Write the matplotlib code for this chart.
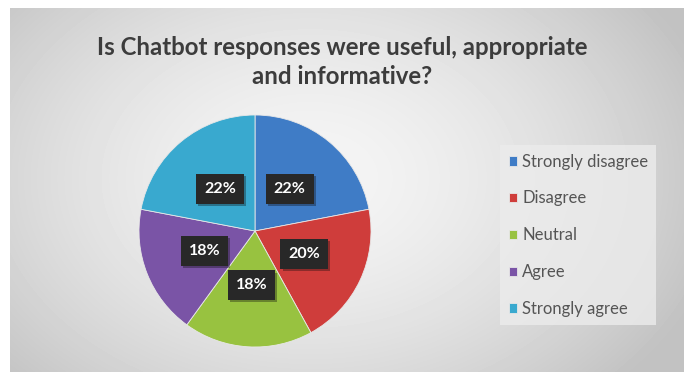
import numpy as np
import matplotlib.pyplot as plt
import matplotlib.patheffects as pe

# survey answers
categories = ['Strongly disagree', 'Disagree', 'Neutral', 'Agree', 'Strongly agree']
shares = [22, 20, 18, 18, 22]
colors = ['#3f7cc6', '#cf3d3b', '#98c240', '#7a54a6', '#39a9cf']
title = 'Is Chatbot responses were useful, appropriate\nand informative?'

W, H = 684, 372
fig = plt.figure(figsize=(W / 100, H / 100), dpi=100)
fig.patch.set_facecolor('white')

# grey chart area with a soft radial light in the middle
bg = fig.add_axes([10 / W, 0, 1 - 10 / W, 1 - 8 / H])
yy, xx = np.mgrid[0:364, 0:674]
d = np.sqrt(((xx - 300) / 420.0) ** 2 + ((yy - 170) / 300.0) ** 2)
shade = np.clip(0.96 - 0.2 * d ** 1.6, 0.76, 0.96)
bg.imshow(shade, cmap='gray', vmin=0, vmax=1, aspect='auto',
          extent=(0, 1, 0, 1), origin='upper', interpolation='bilinear')
bg.set_axis_off()

fig.text(0.5, 1 - 62 / H, title, ha='center', va='center', fontsize=17.3,
         fontweight='bold', color='#3c3c3c', family='Lato', linespacing=1.35)

# pie
cx, cy, r = 255, 231, 116
ax = fig.add_axes([(cx - r) / W, (H - cy - r) / H, 2 * r / W, 2 * r / H])
wedges, texts, autotexts = ax.pie(
    shares, colors=colors, startangle=90, counterclock=False,
    autopct=lambda p: f'{p:.0f}%', pctdistance=0.47,
    wedgeprops=dict(edgecolor='#e8e8e8', linewidth=0.6))
ax.set_xlim(-1, 1)
ax.set_ylim(-1, 1)
ax.set_aspect('auto')
for t in autotexts:
    t.set_color('white')
    t.set_fontsize(11.5)
    t.set_fontweight('bold')
    t.set_family('Lato')
    t.set_bbox(dict(boxstyle='square,pad=0.5', facecolor='#282828',
                    edgecolor='none',
                    path_effects=[pe.SimplePatchShadow(offset=(1.5, -1.5), alpha=0.35),
                                  pe.Normal()]))

# legend on the right
leg = fig.legend(wedges, categories, loc='upper left',
                 bbox_to_anchor=(492 / W, 1 - 137 / H), frameon=True,
                 handlelength=0.5, handleheight=0.5,
                 handletextpad=0.3, labelspacing=1.25, borderpad=0.5,
                 prop={'family': 'Lato', 'size': 12})
leg.get_frame().set_facecolor('#ececec')
leg.get_frame().set_edgecolor('none')
leg.get_frame().set_alpha(0.8)
leg.get_frame().set_boxstyle('square', pad=0)
for t in leg.get_texts():
    t.set_color('#555555')

fig.savefig('out.png', dpi=100, facecolor=fig.get_facecolor())
